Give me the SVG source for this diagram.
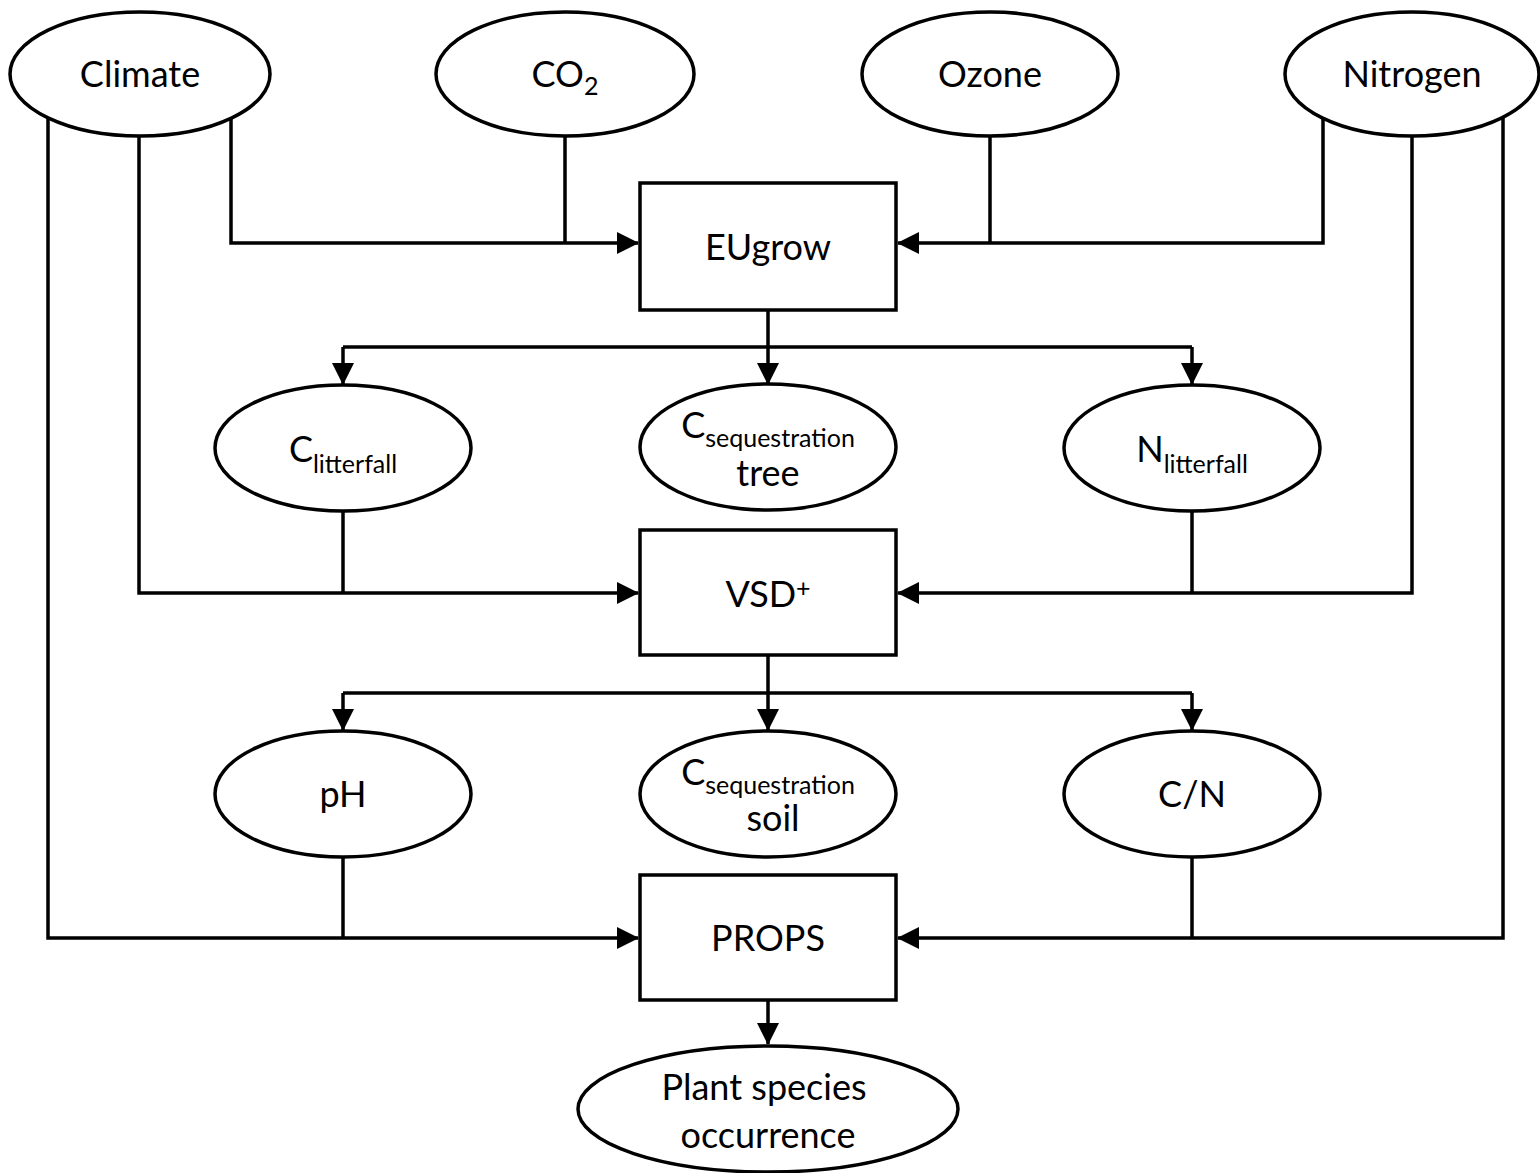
<svg xmlns="http://www.w3.org/2000/svg" width="1540" height="1173" viewBox="0 0 1540 1173">
<style>
.shape{fill:#fff;stroke:#000;stroke-width:3.5}
.ln{fill:none;stroke:#000;stroke-width:3.5;stroke-linejoin:miter}
.t{font-family:Lato,"Liberation Sans",sans-serif;font-size:36px;fill:#000;text-anchor:middle}
.s{font-size:25px}
</style>
<defs>
<marker id="ar" markerUnits="userSpaceOnUse" markerWidth="22" markerHeight="22" viewBox="0 0 22 22" refX="21" refY="11" orient="auto">
<path d="M0,0 L22,11 L0,22 Z" fill="#000"/>
</marker>
</defs>
<rect width="1540" height="1173" fill="#fff"/>
<g id="connectors">
<polyline class="ln" points="231,110 231,243 638,243" marker-end="url(#ar)"/>
<line class="ln" x1="565" y1="137" x2="565" y2="243"/>
<polyline class="ln" points="1323,110 1323,243 898,243" marker-end="url(#ar)"/>
<line class="ln" x1="990" y1="137" x2="990" y2="243"/>
<line class="ln" x1="768" y1="310" x2="768" y2="347"/>
<line class="ln" x1="343" y1="347" x2="1192" y2="347"/>
<line class="ln" x1="343" y1="347" x2="343" y2="384" marker-end="url(#ar)"/>
<line class="ln" x1="768" y1="347" x2="768" y2="384" marker-end="url(#ar)"/>
<line class="ln" x1="1192" y1="347" x2="1192" y2="384" marker-end="url(#ar)"/>
<polyline class="ln" points="139,137 139,593 638,593" marker-end="url(#ar)"/>
<line class="ln" x1="343" y1="511" x2="343" y2="593"/>
<polyline class="ln" points="1412,137 1412,593 898,593" marker-end="url(#ar)"/>
<line class="ln" x1="1192" y1="511" x2="1192" y2="593"/>
<line class="ln" x1="768" y1="655" x2="768" y2="693"/>
<line class="ln" x1="343" y1="693" x2="1192" y2="693"/>
<line class="ln" x1="343" y1="693" x2="343" y2="730" marker-end="url(#ar)"/>
<line class="ln" x1="768" y1="693" x2="768" y2="730" marker-end="url(#ar)"/>
<line class="ln" x1="1192" y1="693" x2="1192" y2="730" marker-end="url(#ar)"/>
<polyline class="ln" points="48,104 48,938 638,938" marker-end="url(#ar)"/>
<line class="ln" x1="343" y1="857" x2="343" y2="938"/>
<polyline class="ln" points="1503,104 1503,938 898,938" marker-end="url(#ar)"/>
<line class="ln" x1="1192" y1="857" x2="1192" y2="938"/>
<line class="ln" x1="768" y1="1000" x2="768" y2="1044" marker-end="url(#ar)"/>
</g>
<g id="climate"><ellipse class="shape" cx="140" cy="74" rx="130" ry="62"/><text class="t" x="140" y="87">Climate</text></g>
<g id="co2"><ellipse class="shape" cx="565" cy="74" rx="129" ry="62"/><text class="t" x="565" y="87">CO<tspan class="s" dy="8">2</tspan></text></g>
<g id="ozone"><ellipse class="shape" cx="990" cy="74" rx="128" ry="62"/><text class="t" x="990" y="87">Ozone</text></g>
<g id="nitrogen"><ellipse class="shape" cx="1412" cy="74" rx="127" ry="62"/><text class="t" x="1412" y="87">Nitrogen</text></g>
<g id="eugrow"><rect class="shape" x="640" y="183" width="256" height="127"/><text class="t" x="768" y="260">EUgrow</text></g>
<g id="clitterfall"><ellipse class="shape" cx="343" cy="448" rx="128" ry="63"/><text class="t" x="343" y="462">C<tspan class="s" dy="11">litterfall</tspan></text></g>
<g id="cseqtree"><ellipse class="shape" cx="768" cy="447" rx="128" ry="63"/><text class="t" x="768" y="438">C<tspan class="s" dy="9">sequestration</tspan></text><text class="t" x="768" y="486">tree</text></g>
<g id="nlitterfall"><ellipse class="shape" cx="1192" cy="448" rx="128" ry="63"/><text class="t" x="1192" y="462">N<tspan class="s" dy="11">litterfall</tspan></text></g>
<g id="vsd"><rect class="shape" x="640" y="530" width="256" height="125"/><text class="t" x="768" y="607">VSD<tspan class="s" dy="-10">+</tspan></text></g>
<g id="ph"><ellipse class="shape" cx="343" cy="794" rx="128" ry="63"/><text class="t" x="343" y="807">pH</text></g>
<g id="cseqsoil"><ellipse class="shape" cx="768" cy="794" rx="128" ry="63"/><text class="t" x="768" y="785">C<tspan class="s" dy="9">sequestration</tspan></text><text class="t" x="773" y="831">soil</text></g>
<g id="cn"><ellipse class="shape" cx="1192" cy="794" rx="128" ry="63"/><text class="t" x="1192" y="807">C/N</text></g>
<g id="props"><rect class="shape" x="640" y="875" width="256" height="125"/><text class="t" x="768" y="951">PROPS</text></g>
<g id="plant"><ellipse class="shape" cx="768" cy="1109" rx="190" ry="63"/><text class="t" x="764" y="1100">Plant species</text><text class="t" x="768" y="1148">occurrence</text></g>
</svg>
